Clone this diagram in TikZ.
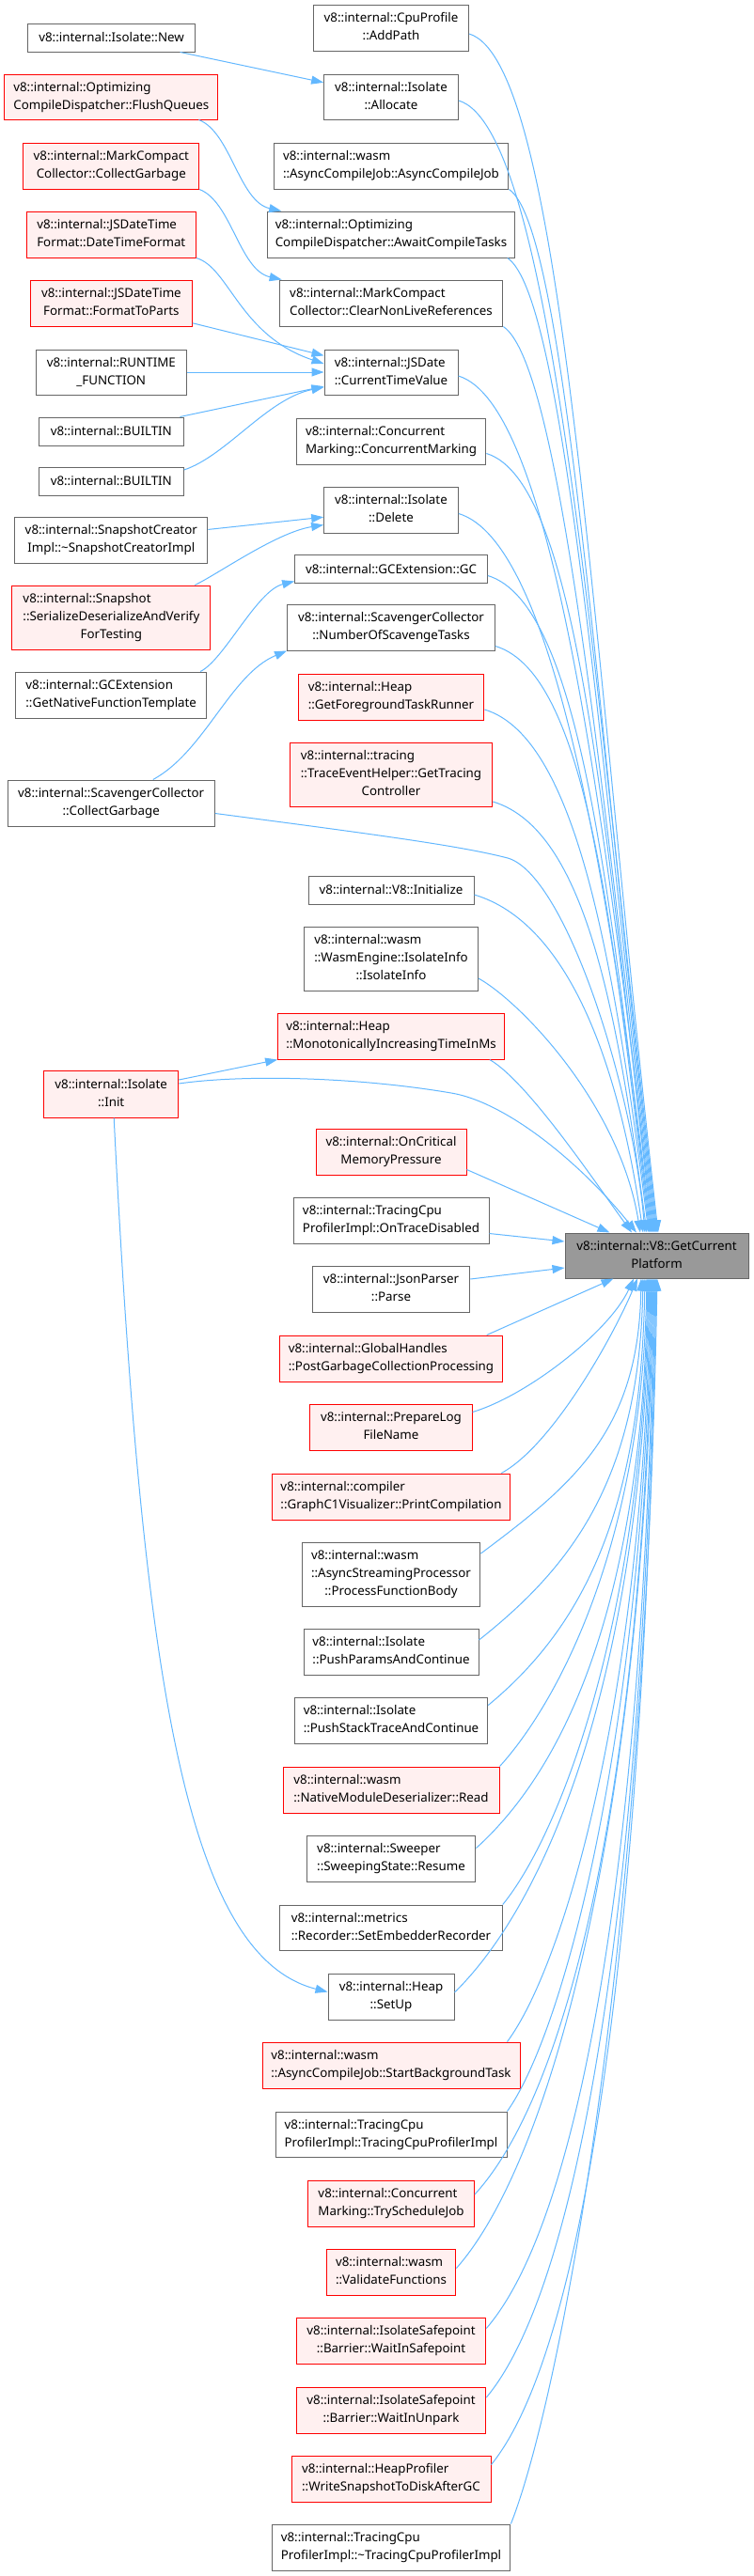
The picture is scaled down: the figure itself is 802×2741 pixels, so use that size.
\documentclass[tikz,border=0pt]{standalone}
\usepackage{fontspec}
\setmainfont{Noto Sans}
\usetikzlibrary{arrows.meta}
\definecolor{eb}{HTML}{63B8FF}
\definecolor{bd}{HTML}{666666}
\definecolor{rfill}{HTML}{FFF0F0}
\definecolor{tfill}{HTML}{999999}
\newcommand\LL[2]{\begin{tabular}{@{}l@{}}#1\\\multicolumn{1}{@{}c@{}}{#2}\end{tabular}}
\newcommand\LLL[3]{\begin{tabular}{@{}l@{}}#1\\#2\\\multicolumn{1}{@{}c@{}}{#3}\end{tabular}}
\begin{document}
\begin{tikzpicture}[x=1pt,y=-1pt,
  every node/.style={font=\fontsize{13.33}{19}\selectfont},
  nb/.style={draw=bd, fill=white, line width=1pt, inner sep=0pt, rectangle},
  nr/.style={draw=red, fill=rfill, line width=1pt, inner sep=0pt, rectangle},
  nt/.style={draw=bd, fill=tfill, line width=1pt, inner sep=0pt, rectangle},
  sz/.style 2 args={minimum width=#1pt, minimum height=#2pt},
  lnk/.style={draw=eb, line width=1pt, -{Triangle[length=13pt,width=9pt]}}
]
\fill[white] (0,0) rectangle (802,2741);
\useasboundingbox (0,0) rectangle (802,2741);

% ---------- left column ----------
\node[nb,sz={177.6}{30}] (nNew) at (118.6,40) {v8::internal::Isolate::New};
\node[nr,sz={227.3}{48}] (nFlush) at (118.3,103) {\LL{v8::internal::Optimizing}{CompileDispatcher::FlushQueues}};
\node[nr,sz={186.7}{49}] (nMCCG) at (118.3,176.5) {\LL{v8::internal::MarkCompact}{Collector::CollectGarbage}};
\node[nr,sz={179.9}{49}] (nDTF) at (118.3,249.5) {\LL{v8::internal::JSDateTime}{Format::DateTimeFormat}};
\node[nr,sz={171.8}{49}] (nFTP) at (118.4,322.5) {\LL{v8::internal::JSDateTime}{Format::FormatToParts}};
\node[nb,sz={159.9}{48}] (nRF) at (118.3,396) {\LL{v8::internal::RUNTIME}{\_FUNCTION}};
\node[nb,sz={153.9}{30}] (nB1) at (118.3,459) {v8::internal::BUILTIN};
\node[nb,sz={153.9}{30}] (nB2) at (118.3,512) {v8::internal::BUILTIN};
\node[nb,sz={205.1}{49}] (nSCI) at (118.3,574.5) {\LL{v8::internal::SnapshotCreator}{Impl::\textasciitilde SnapshotCreatorImpl}};
\node[nr,sz={210.9}{68}] (nSD) at (118.4,657) {\LLL{v8::internal::Snapshot}{::SerializeDeserializeAndVerify}{ForTesting}};
\node[nb,sz={202.8}{49}] (nGNFT) at (118.2,739.5) {\LL{v8::internal::GCExtension}{::GetNativeFunctionTemplate}};
\node[nb,sz={220.4}{49}] (nSCCG) at (118.2,854.5) {\LL{v8::internal::ScavengerCollector}{::CollectGarbage}};
\node[nr,sz={143.1}{50}] (nInit) at (118.2,1164) {\LL{v8::internal::Isolate}{::Init}};

% ---------- middle column ----------
\node[nb,sz={165}{49}] (nAP) at (416,29.5) {\LL{v8::internal::CpuProfile}{::AddPath}};
\node[nb,sz={142.7}{48}] (nAlloc) at (416,103) {\LL{v8::internal::Isolate}{::Allocate}};
\node[nb,sz={249.9}{49}] (nACJ) at (416,176.5) {\LL{v8::internal::wasm}{::AsyncCompileJob::AsyncCompileJob}};
\node[nb,sz={262.5}{49}] (nACT) at (416,249.5) {\LL{v8::internal::Optimizing}{CompileDispatcher::AwaitCompileTasks}};
\node[nb,sz={237.7}{49}] (nCNLR) at (416,322.5) {\LL{v8::internal::MarkCompact}{Collector::ClearNonLiveReferences}};
\node[nb,sz={142}{48}] (nCTV) at (416,396) {\LL{v8::internal::JSDate}{::CurrentTimeValue}};
\node[nb,sz={201.7}{49}] (nCM) at (416,469.5) {\LL{v8::internal::Concurrent}{Marking::ConcurrentMarking}};
\node[nb,sz={142.7}{49}] (nDel) at (416,542.5) {\LL{v8::internal::Isolate}{::Delete}};
\node[nb,sz={204.7}{30}] (nGC) at (416,605.5) {v8::internal::GCExtension::GC};
\node[nb,sz={220.8}{49}] (nNOST) at (416,667.5) {\LL{v8::internal::ScavengerCollector}{::NumberOfScavengeTasks}};
\node[nr,sz={197.8}{49}] (nGFTR) at (416,741.5) {\LL{v8::internal::Heap}{::GetForegroundTaskRunner}};
\node[nr,sz={215.5}{68}] (nGTC) at (416,824) {\LLL{v8::internal::tracing}{::TraceEventHelper::GetTracing}{Controller}};
\node[nb,sz={176}{30}] (nV8I) at (416,947) {v8::internal::V8::Initialize};
\node[nb,sz={184.9}{68}] (nII) at (416,1020) {\LLL{v8::internal::wasm}{::WasmEngine::IsolateInfo}{::IsolateInfo}};
\node[nr,sz={240.7}{49}] (nMono) at (416,1102.5) {\LL{v8::internal::Heap}{::MonotonicallyIncreasingTimeInMs}};
\node[nr,sz={160}{49}] (nOC) at (416,1225.5) {\LL{v8::internal::OnCritical}{MemoryPressure}};
\node[nb,sz={208}{49}] (nOTD) at (416,1298.5) {\LL{v8::internal::TracingCpu}{ProfilerImpl::OnTraceDisabled}};
\node[nb,sz={167.6}{49}] (nJP) at (416,1371.5) {\LL{v8::internal::JsonParser}{::Parse}};
\node[nr,sz={236.5}{49}] (nPGC) at (416,1445.5) {\LL{v8::internal::GlobalHandles}{::PostGarbageCollectionProcessing}};
\node[nr,sz={172.2}{49}] (nPL) at (416,1518.5) {\LL{v8::internal::PrepareLog}{FileName}};
\node[nr,sz={252.6}{49}] (nPC) at (416,1592.5) {\LL{v8::internal::compiler}{::GraphC1Visualizer::PrintCompilation}};
\node[nb,sz={189.8}{68}] (nPFB) at (416,1675) {\LLL{v8::internal::wasm}{::AsyncStreamingProcessor}{::ProcessFunctionBody}};
\node[nb,sz={186}{49}] (nPPC) at (416,1757.5) {\LL{v8::internal::Isolate}{::PushParamsAndContinue}};
\node[nb,sz={205.4}{49}] (nPST) at (416,1830.5) {\LL{v8::internal::Isolate}{::PushStackTraceAndContinue}};
\node[nr,sz={230}{49}] (nNMD) at (416,1904.5) {\LL{v8::internal::wasm}{::NativeModuleDeserializer::Read}};
\node[nb,sz={179.8}{49}] (nRes) at (416,1977.5) {\LL{v8::internal::Sweeper}{::SweepingState::Resume}};
\node[nb,sz={236.5}{48}] (nSER) at (416,2051) {\LL{v8::internal::metrics}{::Recorder::SetEmbedderRecorder}};
\node[nb,sz={134}{49}] (nSetUp) at (416,2124.5) {\LL{v8::internal::Heap}{::SetUp}};
\node[nr,sz={274}{49}] (nSBT) at (416,2197.5) {\LL{v8::internal::wasm}{::AsyncCompileJob::StartBackgroundTask}};
\node[nb,sz={246}{48}] (nTCPI) at (416,2271) {\LL{v8::internal::TracingCpu}{ProfilerImpl::TracingCpuProfilerImpl}};
\node[nr,sz={176.8}{49}] (nTSJ) at (416,2344.5) {\LL{v8::internal::Concurrent}{Marking::TryScheduleJob}};
\node[nr,sz={137.8}{49}] (nVF) at (416,2417.5) {\LL{v8::internal::wasm}{::ValidateFunctions}};
\node[nr,sz={201.6}{49}] (nWIS) at (416,2490.5) {\LL{v8::internal::IsolateSafepoint}{::Barrier::WaitInSafepoint}};
\node[nr,sz={201.6}{49}] (nWIU) at (416,2564.5) {\LL{v8::internal::IsolateSafepoint}{::Barrier::WaitInUnpark}};
\node[nr,sz={212}{49}] (nWS) at (416,2637.5) {\LL{v8::internal::HeapProfiler}{::WriteSnapshotToDiskAfterGC}};
\node[nb,sz={253.8}{49}] (nDTC) at (416,2710.5) {\LL{v8::internal::TracingCpu}{ProfilerImpl::\textasciitilde TracingCpuProfilerImpl}};

% ---------- target ----------
\node[nt,sz={195}{48}] (nT) at (698.5,1336) {\LL{v8::internal::V8::GetCurrent}{Platform}};

% ---------- left -> middle edges ----------
\draw[lnk] (nNew) -- (nAlloc);
\draw[lnk] ([xshift=-21pt]nFlush.south east) .. controls +(34,13) and +(-45,-10) .. ([xshift=15pt]nACT.north west);
\draw[lnk] (nMCCG.south east) .. controls +(34,13) and +(-45,-10) .. ([xshift=3pt]nCNLR.north west);
\draw[lnk] (nDTF.south east) .. controls +(35,10) and +(-90,-30) .. ([yshift=9pt]nCTV.west);
\draw[lnk] (nFTP) -- (nCTV);
\draw[lnk] (nRF) -- (nCTV);
\draw[lnk] (nB1) -- (nCTV);
\draw[lnk] ([yshift=12pt]nB2.east) .. controls +(45,-15) and +(-60,12) .. ([yshift=-16pt]nCTV.west);
\draw[lnk] (nSCI) -- (nDel);
\draw[lnk] ([xshift=-17pt]nSD.north east) .. controls +(25,-12) and +(-50,8) .. ([yshift=-16pt]nDel.west);
\draw[lnk] ([xshift=-7pt]nGNFT.north east) .. controls +(25,-12) and +(-40,10) .. ([yshift=-13pt]nGC.west);
\draw[lnk] ([xshift=44.6pt]nSCCG.north) .. controls +(55,-30) and +(-60,25) .. (nNOST.south west);
\draw[lnk] ([yshift=15pt]nInit.east) -- (nMono.south west);
\draw[lnk] ([xshift=3pt]nInit.south) .. controls +(30,600) and +(-150,-38) .. ([yshift=5pt]nSetUp.west);

% ---------- edges into target from above ----------
\draw[lnk] ([yshift=-6.5pt]nAP.east) .. controls +(100,30) and +(-71.8,-638) .. ([xshift=1.5pt]nT.north);
\draw[lnk] ([yshift=-4pt]nAlloc.east) .. controls +(100,30) and +(-68.3,-602.5) .. ([xshift=0.5pt]nT.north);
\draw[lnk] (nACJ.south east) .. controls +(60,40) and +(-63.6,-555.5) .. ([xshift=-0.5pt]nT.north);
\draw[lnk] ([xshift=-8pt]nACT.south east) .. controls +(60,40) and +(-59.9,-519) .. ([xshift=-1.5pt]nT.north);
\draw[lnk] (nCNLR.south east) .. controls +(60,40) and +(-56.3,-482.5) .. ([xshift=-2.5pt]nT.north);
\draw[lnk] ([yshift=-4pt]nCTV.east) .. controls +(100,30) and +(-53.6,-456) .. ([xshift=-3.5pt]nT.north);
\draw[lnk] ([yshift=-13pt]nCM.east) .. controls +(100,30) and +(-49.5,-414.8) .. ([xshift=-4.5pt]nT.north);
\draw[lnk] ([yshift=-4pt]nDel.east) .. controls +(100,30) and +(-46.3,-382.8) .. ([xshift=-5.5pt]nT.north);
\draw[lnk] ([yshift=-7pt]nGC.east) .. controls +(100,30) and +(-43,-349.8) .. ([xshift=-6.5pt]nT.north);
\draw[lnk] ([yshift=-20pt]nNOST.east) .. controls +(100,30) and +(-39.2,-312.3) .. ([xshift=-7.5pt]nT.north);
\draw[lnk] ([yshift=-13.5pt]nGFTR.east) .. controls +(100,30) and +(-35.9,-278.5) .. ([xshift=-8.5pt]nT.north);
\draw[lnk] ([yshift=-29pt]nGTC.east) .. controls +(100,30) and +(-31,-229.5) .. ([xshift=-10.5pt]nT.north);
\draw[lnk] ([yshift=-11pt]nSCCG.east) .. controls (400,888) and (490,900) .. (540,913)
   .. controls (600,930) and (672,1150) .. ([xshift=-12.5pt]nT.north);
\draw[lnk] ([yshift=-5pt]nV8I.east) .. controls +(100,30) and +(-26,-180) .. ([xshift=-14.5pt]nT.north);
\draw[lnk] ([yshift=-21pt]nII.east) .. controls +(45,25) and +(-21.6,-135.5) .. ([xshift=-17.5pt]nT.north);
\draw[lnk] ([xshift=-16pt]nMono.south east) .. controls +(40,23) and +(-40,-55) .. ([xshift=-26.5pt]nT.north);
\draw[lnk] ([yshift=11pt]nInit.east) .. controls (260,1143) and (380,1146) .. (480,1163)
   .. controls (540,1173) and (620,1240) .. ([xshift=-21.5pt]nT.north);
\draw[lnk] ([yshift=-19pt]nOC.east) -- ([xshift=-50pt]nT.north);
\draw[lnk] ([yshift=-14pt]nOTD.east) -- ([yshift=15pt]nT.west);
\draw[lnk] ([yshift=10.5pt]nJP.east) -- ([yshift=-13pt]nT.west);

% ---------- edges into target from below ----------
\draw[lnk] ([xshift=-17pt]nPGC.north east) -- ([xshift=-46pt]nT.south);
\draw[lnk] ([yshift=16pt]nPL.east) .. controls +(60,-18) and +(-25,55) .. ([xshift=-24.5pt]nT.south);
\draw[lnk] ([xshift=-9.5pt]nPC.north east) .. controls +(55,-30) and +(-25,60) .. ([xshift=-20.5pt]nT.south);
\draw[lnk] ([yshift=22pt]nPFB.east) .. controls +(100,-74.7) and +(-2.9,161.2) .. ([xshift=-16.5pt]nT.south);
\draw[lnk] ([yshift=12.5pt]nPPC.east) .. controls +(100,-79.3) and +(-3.9,211.8) .. ([xshift=-14.5pt]nT.south);
\draw[lnk] ([yshift=16pt]nPST.east) .. controls +(100,-82.7) and +(-4.5,250) .. ([xshift=-12.5pt]nT.south);
\draw[lnk] (nNMD.north east) .. controls +(60,-66) and +(-5.2,286) .. ([xshift=-10.5pt]nT.south);
\draw[lnk] ([yshift=11pt]nRes.east) .. controls +(100,-90.3) and +(-6.1,333.6) .. ([xshift=-9.5pt]nT.south);
\draw[lnk] (nSER.north east) .. controls +(60,-73.4) and +(-6.7,366.9) .. ([xshift=-8.5pt]nT.south);
\draw[lnk] ([yshift=4.5pt]nSetUp.east) .. controls +(100,-98) and +(-7.6,418) .. ([xshift=-7.5pt]nT.south);
\draw[lnk] ([xshift=-14pt]nSBT.north east) .. controls +(60,-80.7) and +(-8.1,447.2) .. ([xshift=-6.5pt]nT.south);
\draw[lnk] (nTCPI.north east) .. controls +(60,-84.4) and +(-8.9,487.9) .. ([xshift=-5.5pt]nT.south);
\draw[lnk] ([yshift=9.5pt]nTSJ.east) .. controls +(100,-108.8) and +(-9.8,536.3) .. ([xshift=-4.5pt]nT.south);
\draw[lnk] ([yshift=4pt]nVF.east) .. controls +(100,-112.7) and +(-10.5,579.4) .. ([xshift=-3.5pt]nT.south);
\draw[lnk] ([yshift=13pt]nWIS.east) .. controls +(100,-115.9) and +(-11.2,614.6) .. ([xshift=-2.5pt]nT.south);
\draw[lnk] ([yshift=13.5pt]nWIU.east) .. controls +(100,-119.6) and +(-11.9,655) .. ([xshift=-1.5pt]nT.south);
\draw[lnk] ([yshift=15pt]nWS.east) .. controls +(100,-123.1) and +(-12.6,694.4) .. ([xshift=-0.5pt]nT.south);
\draw[lnk] (nDTC.north east) .. controls +(50,-126.3) and +(-13.3,729.3) .. ([xshift=0.5pt]nT.south);
\end{tikzpicture}
\end{document}
